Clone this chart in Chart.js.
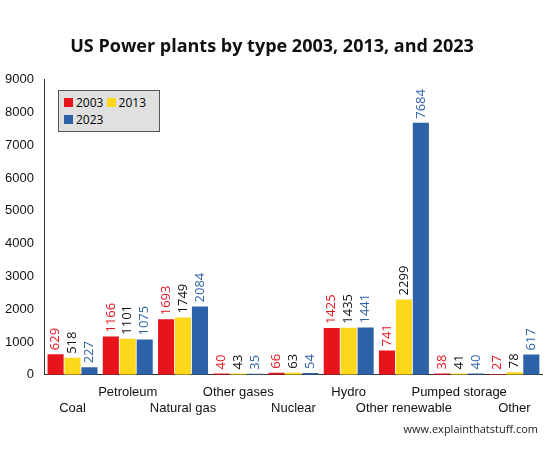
<!DOCTYPE html>
<html>
<head>
<meta charset="utf-8">
<script src="https://cdn.jsdelivr.net/npm/chart.js@4"></script>
<style>
  body { margin: 0; background: #fff; font-family: "Open Sans", sans-serif; }
  #wrap { position: relative; width: 550px; height: 450px; }
  #legend { position: absolute; left: 58px; top: 90px; width: 102px; height: 42px; white-space: nowrap;
    background: #e0e0e0; border: 1px solid #555; font-size: 12px; line-height: 17px; padding: 3px 5px; box-sizing: border-box; }
  #legend span.sw { display: inline-block; width: 9px; height: 9px; margin-right: 3px; }
  #site { position: absolute; right: 12px; bottom: 14px; font-size: 11px; color: #222; }
</style>
</head>
<body>
<div id="wrap">
  <canvas id="chart" width="550" height="450"></canvas>
  <div id="legend">
    <span class="sw" style="background:#e8141c"></span>2003 <span class="sw" style="background:#fcd71c"></span>2013<br>
    <span class="sw" style="background:#2e62a8"></span>2023
  </div>
  <div id="site">www.explainthatstuff.com</div>
</div>
<script>
const categories = [["", "Coal"], ["Petroleum", ""], ["", "Natural gas"], ["Other gases", ""], ["", "Nuclear"],
  ["Hydro", ""], ["", "Other renewable"], ["Pumped storage", ""], ["", "Other"]];
const years = ["2003", "2013", "2023"];
const plants2003 = [629, 1166, 1693, 40, 66, 1425, 741, 38, 27];
const plants2013 = [518, 1101, 1749, 43, 63, 1435, 2299, 41, 78];
const plants2023 = [227, 1075, 2084, 35, 54, 1441, 7684, 40, 617];
const barColors = ["#e8141c", "#fcd71c", "#2e62a8"];
const labelColors = ["#e8141c", "#111111", "#2e62a8"];

const valueLabels = {
  id: "valueLabels",
  afterDatasetsDraw(chart) {
    const ctx = chart.ctx;
    ctx.save();
    ctx.font = "13px 'Open Sans', sans-serif";
    ctx.textAlign = "left";
    ctx.textBaseline = "middle";
    chart.data.datasets.forEach((ds, i) => {
      chart.getDatasetMeta(i).data.forEach((bar, j) => {
        ctx.save();
        ctx.translate(bar.x, bar.y - 4);
        ctx.rotate(-Math.PI / 2);
        ctx.fillStyle = labelColors[i];
        ctx.fillText(String(ds.data[j]), 0, 0);
        ctx.restore();
      });
    });
    ctx.restore();
  }
};

new Chart(document.getElementById("chart"), {
  type: "bar",
  data: {
    labels: categories,
    datasets: [plants2003, plants2013, plants2023].map((d, i) => ({
      label: years[i], data: d, backgroundColor: barColors[i],
      barPercentage: 0.95, categoryPercentage: 0.92
    }))
  },
  options: {
    responsive: false,
    animation: false,
    layout: { padding: { top: 10, right: 8, left: 2, bottom: 32 } },
    plugins: {
      legend: { display: false },
      tooltip: { enabled: false },
      title: {
        display: true, text: "US Power plants by type 2003, 2013, and 2023",
        color: "#111", font: { size: 18, weight: "bold", family: "'Open Sans', sans-serif" },
        padding: { top: 26, bottom: 22 }
      }
    },
    scales: {
      y: {
        min: 0, max: 9000,
        ticks: { stepSize: 1000, color: "#111", font: { size: 13 }, callback: v => String(v) },
        grid: { display: false },
        border: { color: "#333" }
      },
      x: {
        ticks: { color: "#111", font: { size: 13 }, maxRotation: 0, autoSkip: false, padding: 2 },
        grid: { display: false },
        border: { color: "#333" }
      }
    }
  },
  plugins: [valueLabels]
});
</script>
</body>
</html>
